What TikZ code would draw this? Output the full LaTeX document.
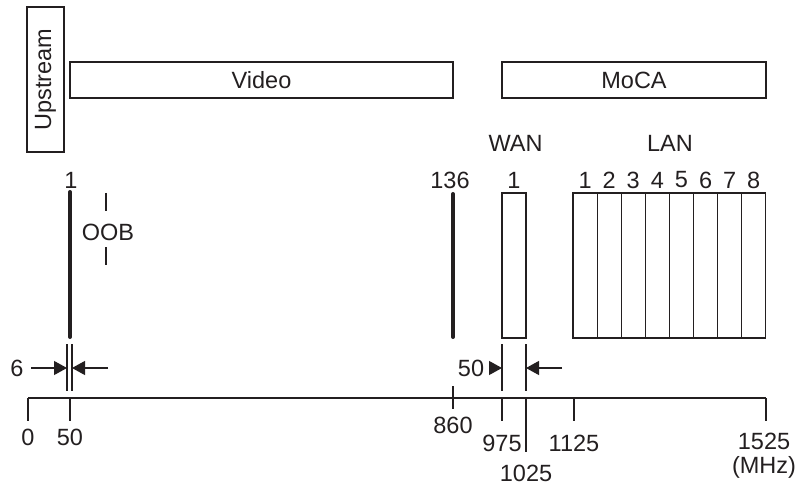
\documentclass[tikz,border=0pt]{standalone}
\usepackage{fontspec}
\setmainfont{Liberation Sans}
\usetikzlibrary{arrows.meta}
\definecolor{ink}{HTML}{231F20}
\begin{document}
\begin{tikzpicture}[x=1pt,y=-1pt,
  thin line/.style={draw=ink,line width=1.2pt},
  bar/.style={draw=ink,line width=1.2pt,minimum width=0pt,minimum height=0pt,inner sep=0pt},
  chan/.style={draw=ink,line width=4pt,line cap=round},
  lbl/.style={text=ink,inner sep=0pt,font=\fontsize{23.5}{28}\selectfont},
  dimarrow/.style={draw=ink,line width=1.2pt,-{Triangle[length=13pt,width=14pt]}}
]
\useasboundingbox (0,0) rectangle (800,489);
% top bands
\node[bar,minimum width=37pt,minimum height=145pt] (up) at (45.5,79.5) {};
\node[lbl,rotate=90] (uptxt) at (up.center) {Upstream};
\node[bar,minimum width=383pt,minimum height=36pt] (video) at (261.5,80) {};
\node[lbl] (videotxt) at (video.center) {Video};
\node[bar,minimum width=264pt,minimum height=36pt] (moca) at (634,80) {};
\node[lbl] (mocatxt) at (moca.center) {MoCA};
% labels
\node[lbl] (wan) at (515.5,143) {WAN};
\node[lbl] (lan) at (670,143) {LAN};
% channels
\coordinate (c1t) at (70,192); \coordinate (c1b) at (70,337);
\draw[chan] (c1t) -- (c1b);
\node[lbl] (c1l) at (71,180) {1};
\coordinate (c136t) at (453,194); \coordinate (c136b) at (453,337);
\draw[chan] (c136t) -- (c136b);
\node[lbl] (c136l) at (450,180) {136};
% OOB
\node[lbl] (oob) at (108,232) {OOB};
\coordinate (oobt) at (106,193); \coordinate (oobtb) at (106,211);
\coordinate (oobbt) at (106,247); \coordinate (oobb) at (106,265);
\draw[thin line] (oobt) -- (oobtb);
\draw[thin line] (oobbt) -- (oobb);
% WAN box
\node[bar,minimum width=24pt,minimum height=145pt] (wanbox) at (514,265.5) {};
\node[lbl] (wan1) at (514,180) {1};
% LAN boxes
\foreach \i in {1,...,8}{
  \node[bar,minimum width=24.1pt,minimum height=145pt] (lan\i) at ({573+12.05+24.1*(\i-1)},265.5) {};
  \node[lbl] (lanl\i) at ({573+12.05+24.1*(\i-1)},180) {\i};
}
% axis
\coordinate (a0) at (28,398); \coordinate (aend) at (766,398);
\draw[thin line] (a0) -- (aend);
\coordinate (t50) at (70,398); \coordinate (t860) at (453,398);
\coordinate (t975) at (502,398); \coordinate (t1025) at (526,398);
\coordinate (t1125) at (574,398);
\draw[thin line] (a0) -- ++(0,23);
\draw[thin line] (t50) -- ++(0,23);
\draw[thin line] (t860) ++(0,-12) -- ++(0,23);
\draw[thin line] (t975) -- ++(0,23);
\draw[thin line] (t1025) -- ++(0,54);
\draw[thin line] (t1125) -- ++(0,23);
\draw[thin line] (aend) -- ++(0,23);
\node[lbl] (l0) at (28,437) {0};
\node[lbl] (l50) at (70,437) {50};
\node[lbl] (l860) at (453,425) {860};
\node[lbl] (l975) at (502,443) {975};
\node[lbl] (l1125) at (574,443) {1125};
\node[lbl] (l1025) at (526,473) {1025};
\node[lbl] (l1525) at (764,441) {1525};
\node[lbl] (lmhz) at (764,467) {(MHz)};
% 6 MHz dimension
\coordinate (d6a) at (67,344); \coordinate (d6b) at (72,344);
\draw[thin line] (d6a) -- (67,391);
\draw[thin line] (d6b) -- (72,391);
\node[lbl] (six) at (17,368) {6};
\coordinate (d6l) at (31,368); \coordinate (d6r) at (108,368);
\draw[dimarrow] (d6l) -- (d6a |- d6l);
\draw[dimarrow] (d6r) -- (d6b |- d6r);
% 50 MHz dimension
\coordinate (d50a) at (502,344); \coordinate (d50b) at (526,344);
\draw[thin line] (d50a) -- (502,391);
\draw[thin line] (d50b) -- (526,391);
\node[lbl] (fifty) at (471,368) {50};
\coordinate (d50l) at (489,368); \coordinate (d50r) at (562,368);
\draw[dimarrow] (d50l) -- (d50a |- d50l);
\draw[dimarrow] (d50r) -- (d50b |- d50r);
\end{tikzpicture}
\end{document}
